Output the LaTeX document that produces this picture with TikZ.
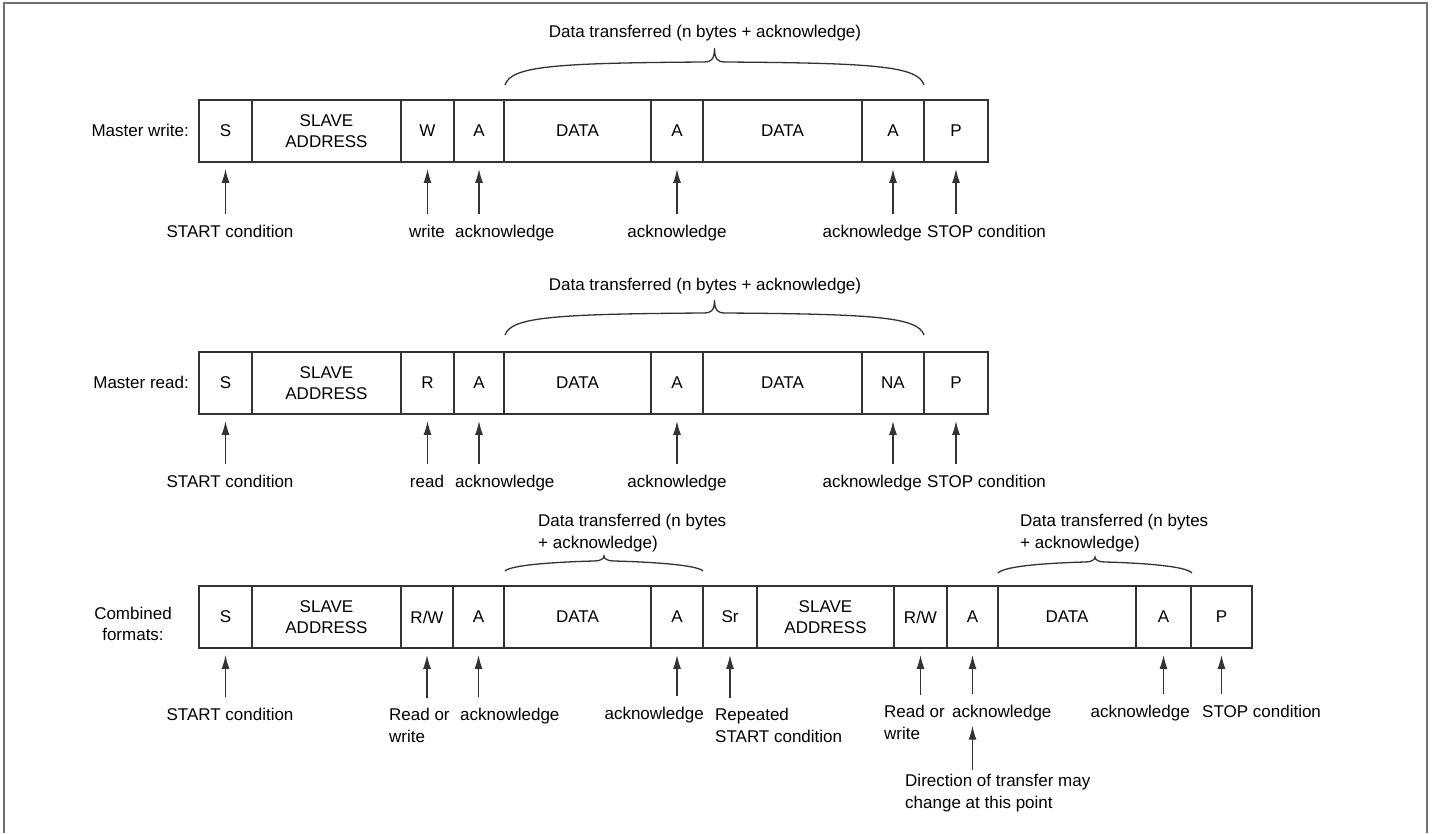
\documentclass[tikz,border=0pt]{standalone}
\usepackage{fontspec}
\setmainfont{Liberation Sans}
\usepackage{tikz}
\usetikzlibrary{positioning,arrows.meta}
\definecolor{ink}{HTML}{333333}
\definecolor{framegray}{HTML}{707070}
\tikzset{every picture/.style={>={Latex[length=14pt,width=8pt]}}}
\tikzset{cell/.style={draw=ink,line width=1.8pt,minimum height=62pt,inner sep=0pt,align=center}}
\tikzset{lbl/.style={inner sep=2pt,align=left}}
\tikzset{ptr/.style={->,draw=ink,line width=1.3pt,shorten >=6pt,shorten <=8pt}}
\tikzset{brace/.style={draw=ink,line width=1.3pt}}
\newcommand{\bytebrace}[5]{%
  \pgfmathsetmacro\bm{(#1+#2)/2}%
  \draw[brace] (#1,#3) .. controls (#1+6,#4+4) and (#1+50,#4+1) .. (\bm-10,#4)
    .. controls (\bm-4,#4) and (\bm,#4-2) .. (\bm,#5)
    .. controls (\bm,#4-2) and (\bm+4,#4) .. (\bm+10,#4)
    .. controls (#2-50,#4+1) and (#2-6,#4+4) .. (#2,#3);}

\begin{document}
\begin{tikzpicture}[x=1pt,y=-1pt,font=\fontsize{17}{21.5}\selectfont]
  \useasboundingbox (0,0) rectangle (1432,833);
  \draw[framegray,line width=1.8pt] (4,833) -- (4,3) -- (1427,3) -- (1427,833);

  \node[lbl,anchor=base] (wtitle) at (705,37) {Data transferred (n bytes + acknowledge)};
  \bytebrace{505}{924}{85}{62}{48}
  \node[lbl,anchor=east] (wlab) at (191,130) {Master write:};
  \foreach \l/\r/\t/\n in {199/252/S/s, 252/401/{SLAVE\\ADDRESS}/addr, 401/454/W/w, 454/504/A/a1,
      504/651/DATA/d1, 651/703/A/a2, 703/862/DATA/d2, 862/924/A/a3, 924/988/P/p}
    {\pgfmathsetmacro\w{\r-\l}
     \node[cell,minimum width=\w pt] (w\n) at ({(\l+\r)/2},131) {\t};}
  \node[lbl,anchor=base] (wstart) at (230,237) {START condition};
  \node[lbl,anchor=base] (wwr) at (427,237) {write};
  \node[lbl,anchor=base west] (wack1) at (453,237) {acknowledge};
  \node[lbl,anchor=base] (wack2) at (677,237) {acknowledge};
  \node[lbl,anchor=base east] (wack3) at (924,237) {acknowledge};
  \node[lbl,anchor=base west] (wstop) at (925,237) {STOP condition};
  \foreach \c/\t in {s/start, w/wr, a1/ack1, a2/ack2, a3/ack3, p/stop}
    \draw[ptr] (w\t.north -| w\c.south) -- (w\c.south);

  \node[lbl,anchor=base] (rtitle) at (705,290) {Data transferred (n bytes + acknowledge)};
  \bytebrace{505}{924}{335}{313}{300}
  \node[lbl,anchor=east] (rlab) at (191,382) {Master read:};
  \foreach \l/\r/\t/\n in {199/252/S/s, 252/401/{SLAVE\\ADDRESS}/addr, 401/454/R/r, 454/504/A/a1,
      504/651/DATA/d1, 651/703/A/a2, 703/862/DATA/d2, 862/924/NA/na, 924/988/P/p}
    {\pgfmathsetmacro\w{\r-\l}
     \node[cell,minimum width=\w pt] (r\n) at ({(\l+\r)/2},383) {\t};}
  \node[lbl,anchor=base] (rstart) at (230,487) {START condition};
  \node[lbl,anchor=base] (rrd) at (427,487) {read};
  \node[lbl,anchor=base west] (rack1) at (453,487) {acknowledge};
  \node[lbl,anchor=base] (rack2) at (677,487) {acknowledge};
  \node[lbl,anchor=base east] (rack3) at (924,487) {acknowledge};
  \node[lbl,anchor=base west] (rstop) at (925,487) {STOP condition};
  \foreach \c/\t in {s/start, r/rd, a1/ack1, a2/ack2, na/ack3, p/stop}
    \draw[ptr] (r\t.north -| r\c.south) -- (r\c.south);

  \node[lbl,anchor=base west] (ctitle1) at (536,548) {Data transferred (n bytes\\+ acknowledge)};
  \node[lbl,anchor=base west] (ctitle2) at (1018,548) {Data transferred (n bytes\\+ acknowledge)};
  \bytebrace{505}{703}{571}{561}{556}
  \bytebrace{998}{1192}{573}{562}{557}
  \node[lbl,align=center] (clab) at (133,624) {Combined\\formats:};
  \foreach \l/\r/\t/\n in {199/252/S/s, 252/401/{SLAVE\\ADDRESS}/addr, 401/453/{R/W}/rw, 453/504/A/a1,
      504/651/DATA/d1, 651/703/A/a2, 703/757/Sr/sr, 757/894/{SLAVE\\ADDRESS}/addrb, 894/947/{R/W}/rwb,
      947/998/A/a3, 998/1136/DATA/d2, 1136/1191/A/a4, 1191/1252/P/p}
    {\pgfmathsetmacro\w{\r-\l}
     \node[cell,minimum width=\w pt] (c\n) at ({(\l+\r)/2},617) {\t};}
  \node[lbl,anchor=base] (cstart) at (230,720) {START condition};
  \node[lbl,anchor=base west] (crdwr) at (387,742) {Read or\\write};
  \node[lbl,anchor=base west] (cack1) at (458,720) {acknowledge};
  \node[lbl,anchor=base east] (cack2) at (706,719) {acknowledge};
  \node[lbl,anchor=base west] (crep) at (713,742) {Repeated\\START condition};
  \node[lbl,anchor=base west] (crdwrb) at (882,739) {Read or\\write};
  \node[lbl,anchor=base west] (cack3) at (950,717) {acknowledge};
  \node[lbl,anchor=base east] (cack4) at (1192,717) {acknowledge};
  \node[lbl,anchor=base west] (cstop) at (1200,717) {STOP condition};
  \node[lbl,anchor=base west] (cdir) at (903,808) {Direction of transfer may\\change at this point};
  \foreach \c/\t in {s/start, rw/rdwr, a1/ack1, a2/ack2, sr/rep, rwb/rdwrb, a3/ack3, a4/ack4, p/stop}
    \draw[ptr] (c\t.north -| c\c.south) -- (c\c.south);
  \draw[ptr,shorten >=3pt,shorten <=2pt] (cdir.north -| ca3.south) -- (cack3.south -| ca3.south);
\end{tikzpicture}
\end{document}
